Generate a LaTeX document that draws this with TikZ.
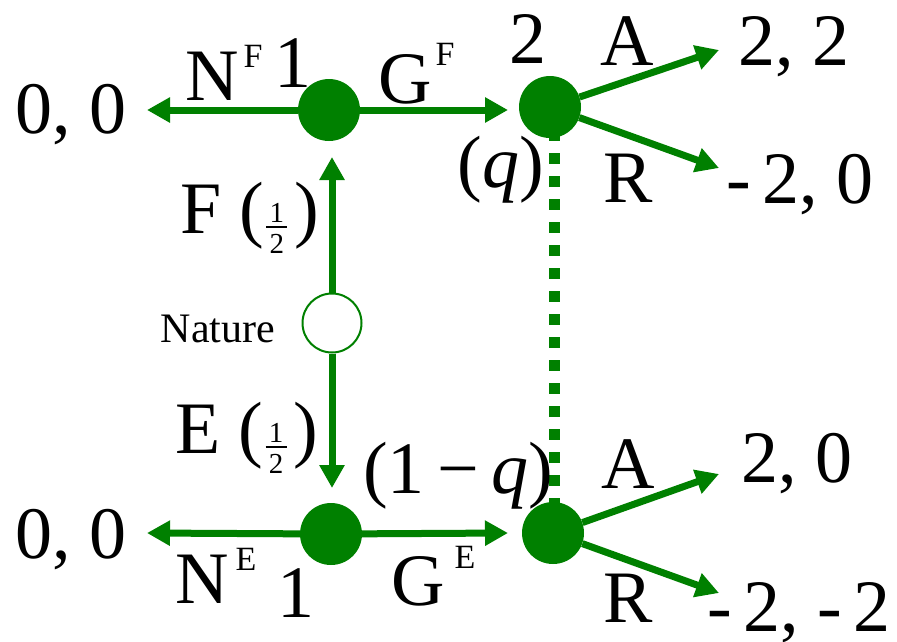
\documentclass[tikz,border=0pt]{standalone}
\usepackage{fontspec}
\setmainfont{Liberation Serif}
\usetikzlibrary{arrows.meta,backgrounds}
\definecolor{tg}{RGB}{0,128,0}
\newcommand\halffrac{\kern2pt\raisebox{-20pt}{\fontsize{29}{29}\selectfont\vbox{\hbox to 21pt{\hfil 1\hfil}\kern4pt\hrule height 1.6pt\kern6pt\hbox to 21pt{\hfil 2\hfil}}}\kern7pt}
\newcommand\bigtxt{\fontsize{74}{80}\selectfont}
\newcommand\suptxt[2]{\raisebox{#1}{\fontsize{34}{34}\selectfont #2}}
\begin{document}
\begin{tikzpicture}[x=1pt,y=-1pt,
  lab/.style={inner sep=0pt,anchor=base,font=\bigtxt},
  labw/.style={inner sep=0pt,anchor=base west,font=\bigtxt},
  dec/.style={circle,fill=tg,minimum size=62pt,inner sep=0pt},
  chance/.style={circle,draw=tg,line width=2pt,fill=white,minimum size=59pt,inner sep=0pt},
  arr/.style={draw=tg,line width=7pt,-{Triangle[length=23pt,width=24pt]}},
  info/.style={draw=tg,line width=11pt,dash pattern=on 11pt off 12pt}]
\useasboundingbox (0,0) rectangle (897,641);

% decision and chance nodes
\node[dec] (p1t) at (329,110) {};
\node[dec] (p2t) at (550,107) {};
\node[chance] (nat) at (332,323) {};
\node[dec] (p1b) at (331,534) {};
\node[dec] (p2b) at (553,533) {};

% free ends of the arrows
\coordinate (tl) at (147,110);
\coordinate (tr) at (508,110);
\coordinate (up) at (332,157);
\coordinate (dn) at (332,488);
\coordinate (bl) at (147,533);
\coordinate (br) at (508,533);
\coordinate (ta) at (719,50);
\coordinate (tre) at (719,168);
\coordinate (ba) at (719,474);
\coordinate (bre) at (719,593);

% information set
\begin{scope}[on background layer]
\draw[info] ([xshift=4pt]p2t.center) -- ([xshift=1pt]p2b.center);
\end{scope}

% arrows
\draw[arr] (p1t) -- (tl);
\draw[arr] (p1t) -- (tr);
\draw[arr] (nat) -- (up);
\draw[arr] (nat) -- (dn);
\draw[arr] (p1b) -- (bl);
\draw[arr] (p1b) -- (br);
\draw[arr] (p2t) -- (ta);
\draw[arr] (p2t) -- (tre);
\draw[arr] (p2b) -- (ba);
\draw[arr] (p2b) -- (bre);

% labels
\node[lab] (pay1) at (71,133) {0, 0};
\node[labw] (nf) at (185,100) {N\kern5pt\suptxt{33pt}{F}};
\node[lab] (one1) at (293,87) {1};
\node[labw] (gf) at (378,103) {G\kern4pt\suptxt{38pt}{F}};
\node[lab] (two) at (528,63) {2};
\node[lab] (at) at (627,65) {A};
\node[lab] (pay2) at (794,65) {2, 2};
\node[lab] (q) at (501,187) {(\textit{q})};
\node[lab] (rt) at (628,202) {R};
\node[lab] (pay3) at (800,203) {-\kern11pt2, 0};
\node[labw] (fl) at (180,233) {F (\halffrac)};
\node[lab,font=\fontsize{42}{44}\selectfont] (natl) at (218,342) {Nature};
\node[labw] (el) at (175,453) {E (\halffrac)};
\node[labw] (oq) at (363,493) {(1\,−\,\textit{q})};
\node[lab] (ab) at (628,488) {A};
\node[lab] (pay4) at (797,482) {2, 0};
\node[lab] (pay6) at (71,558) {0, 0};
\node[labw] (ne) at (175,603) {N\kern7pt\suptxt{33pt}{E}};
\node[lab] (one2) at (296,617) {1};
\node[labw] (ge) at (391,605) {G\kern10pt\suptxt{37pt}{E}};
\node[lab] (rb) at (628,622) {R};
\node[lab] (pay5) at (799,631) {-\kern11pt2, -\kern11pt2};
\end{tikzpicture}
\end{document}
